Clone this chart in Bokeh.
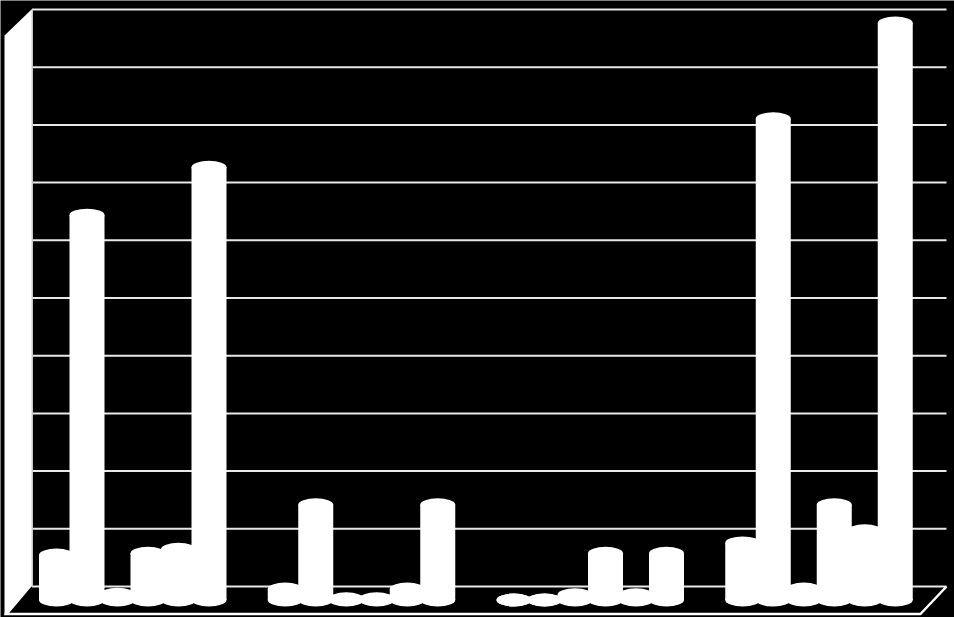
from bokeh.plotting import figure
from bokeh.embed import file_html
from bokeh.resources import INLINE

groups = ["A", "B", "C", "D"]
series_1 = [7.8, 1.9, 0.0, 9.9]
series_2 = [66.7, 16.5, 0.0, 83.4]
series_3 = [1.0, 0.2, 0.9, 1.9]
series_4 = [8.1, 0.2, 8.1, 16.5]
series_5 = [8.8, 1.9, 0.9, 12.0]
series_6 = [75.0, 16.5, 8.1, 100.0]
all_series = [series_1, series_2, series_3, series_4, series_5, series_6]
grid_values = [0, 10, 20, 30, 40, 50, 60, 70, 80, 90, 100]

W, H = 954, 617
PX_X = 30.5          # px per slot
PX_Y = 5.77          # px per value unit
X0_PX, Y0_PX = 56.0, 599.5   # front base of the first bar
GROUP_STEP = 7.5

def ux(px):
    return (px - X0_PX) / PX_X

def uy(py):
    return (Y0_PX - py) / PX_Y

p = figure(width=W, height=H, output_backend="svg", toolbar_location=None,
           x_range=(ux(0), ux(W)), y_range=(uy(H), uy(0)),
           min_border=0, outline_line_color=None, background_fill_color="black",
           border_fill_color="black")
p.axis.visible = False
p.grid.visible = False
p.styles = {"position": "fixed", "left": "0px", "top": "0px"}

# back wall gridlines (the wall sits behind the bars by a depth offset)
depth = uy(586)
xl, xr = ux(31.5), ux(946)
p.multi_line([[xl, xr] for _ in grid_values],
             [[v + depth, v + depth] for v in grid_values],
             line_color="#e8e8e8", line_width=2)
p.line([xl, xl], [depth, 100 + depth], line_color="#c8c8c8", line_width=2)

# side wall
p.patch([ux(4), ux(31), ux(31), ux(9), ux(4)],
        [uy(35), uy(9), uy(586), uy(612), uy(615)],
        fill_color="white", line_color=None)

# floor edges
p.line([ux(4), ux(920), ux(946)], [uy(613.5), uy(613.5), uy(586)],
       line_color="white", line_width=2.5)

# bars
xs, tops = [], []
for j, s in enumerate(all_series):
    for i, v in enumerate(s):
        xs.append(i * GROUP_STEP + j)
        tops.append(v)
bw = 35 / PX_X
eh = 13 / PX_Y
p.vbar(x=xs, top=tops, bottom=0, width=bw, fill_color="white", line_color=None)
p.ellipse(x=xs, y=tops, width=bw, height=eh, fill_color="white", line_color=None)
p.ellipse(x=xs, y=[0] * len(xs), width=bw, height=eh, fill_color="white", line_color=None)

open("out.html", "w").write(file_html(p, INLINE))
